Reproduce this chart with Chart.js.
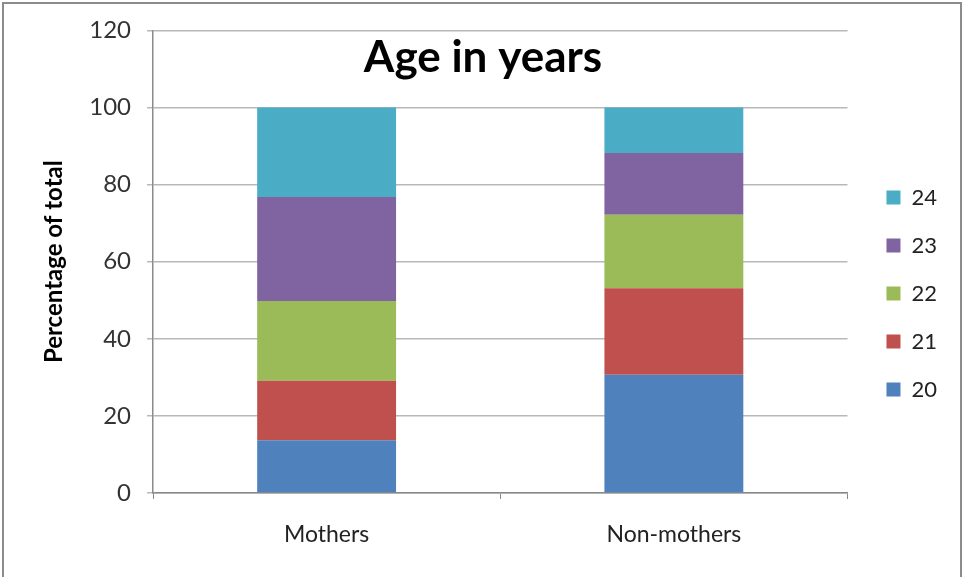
<!DOCTYPE html>
<html lang="en">
<head>
    <meta charset="UTF-8">
    <title>Age in years</title>
    <script src="https://cdn.jsdelivr.net/npm/chart.js"></script>
    <style>
        html, body { margin: 0; padding: 0; background: #fff; overflow: hidden; }
        .wrap { position: relative; width: 964px; height: 577px; }
        .frame {
            position: absolute; left: 2px; top: 2px; width: 956px; height: 590px;
            border: 2px solid #8c8c8c; pointer-events: none;
        }
    </style>
</head>
<body>
    <div class="wrap">
        <canvas id="ageChart" width="964" height="577"></canvas>
        <div class="frame"></div>
    </div>

    <script>
    // Share of each age group (percent of total)
    const groups = ['Mothers', 'Non-mothers'];
    const ages = ['20', '21', '22', '23', '24'];
    const age20 = [13.7, 30.7];
    const age21 = [15.4, 22.4];
    const age22 = [20.7, 19.1];
    const age23 = [27.0, 16.0];
    const age24 = [23.2, 11.8];
    const yTicks = [0, 20, 40, 60, 80, 100, 120];

    const colors = ['#4F81BD', '#C0504D', '#9BBB59', '#8064A2', '#4BACC6'];
    const series = [age20, age21, age22, age23, age24];

    const font = "Lato, 'Open Sans', sans-serif";
    const gridColor = '#b8b8b8';
    const axisColor = '#8a8a8a';

    // Title sits inside the plot area, like the spreadsheet original
    const innerTitle = {
        id: 'innerTitle',
        afterDraw(chart) {
            const ctx = chart.ctx;
            ctx.save();
            ctx.font = "bold 44px " + font;
            ctx.fillStyle = '#000';
            ctx.textAlign = 'center';
            ctx.textBaseline = 'middle';
            ctx.fillText('Age in years', 483, 58);
            ctx.restore();
        }
    };

    new Chart(document.getElementById('ageChart'), {
        type: 'bar',
        data: {
            labels: groups,
            datasets: ages.map((a, i) => ({
                label: a,
                data: series[i],
                backgroundColor: colors[i],
                borderWidth: 0,
                barPercentage: 0.4,
                categoryPercentage: 1
            }))
        },
        options: {
            responsive: false,
            animation: false,
            layout: { padding: { left: 40, top: 30, right: 17, bottom: 20 } },
            plugins: {
                legend: {
                    position: 'right',
                    reverse: true,
                    labels: {
                        boxWidth: 14,
                        boxHeight: 14,
                        padding: 26,
                        color: '#222',
                        font: { family: font, size: 22 }
                    }
                },
                tooltip: { enabled: false }
            },
            scales: {
                x: {
                    stacked: true,
                    afterFit: s => { s.height = 64; },
                    grid: {
                        drawOnChartArea: false,
                        drawTicks: true,
                        tickLength: 6,
                        color: axisColor
                    },
                    border: { color: axisColor, width: 1.5 },
                    ticks: {
                        padding: 22,
                        color: '#222',
                        font: { family: font, size: 23 }
                    }
                },
                y: {
                    stacked: true,
                    min: 0,
                    max: 120,
                    afterFit: s => { s.width = 113; },
                    afterBuildTicks: s => { s.ticks = yTicks.map(v => ({ value: v })); },
                    grid: {
                        color: gridColor,
                        lineWidth: 1.5,
                        tickLength: 6
                    },
                    border: { color: axisColor, width: 1.5 },
                    ticks: {
                        padding: 16,
                        color: '#333',
                        font: { family: font, size: 24 }
                    },
                    title: {
                        display: true,
                        text: 'Percentage of total',
                        color: '#000',
                        padding: 0,
                        font: { family: font, size: 24, weight: 'bold' }
                    }
                },
                // empty spacer between the plot and the legend
                gap: {
                    type: 'linear',
                    position: 'right',
                    afterFit: s => { s.width = 13; },
                    grid: { display: false },
                    border: { display: false },
                    ticks: { display: false }
                }
            }
        },
        plugins: [innerTitle]
    });
    </script>
</body>
</html>
